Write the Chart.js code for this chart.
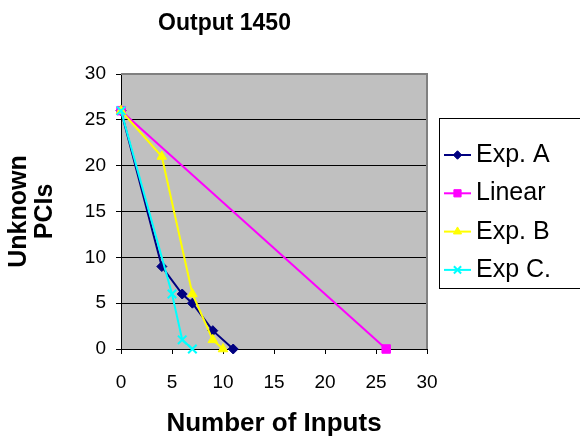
<!DOCTYPE html>
<html><head><meta charset="utf-8">
<script src="https://cdn.jsdelivr.net/npm/chart.js@4.4.0/dist/chart.umd.min.js"></script>
<style>html,body{margin:0;padding:0;background:#fff;overflow:hidden}</style>
</head><body>
<canvas id="c" width="580" height="439" style="display:block;width:580px;height:439px"></canvas>
<script>
const chartTitle = 'Output 1450';
const xAxisTitle = 'Number of Inputs';
const yAxisTitle = ['Unknown', 'PCIs'];
const seriesNames = ['Exp. A', 'Linear', 'Exp. B', 'Exp C.'];
const expAX = [0, 4, 6, 7, 9, 11];
const expAY = [26, 9, 6, 5, 2, 0];
const linearX = [0, 26];
const linearY = [26, 0];
const expBX = [0, 4, 7, 9, 10];
const expBY = [26, 21, 6, 1, 0];
const expCX = [0, 5, 6, 7];
const expCY = [26, 6, 1, 0];
const xTickValues = [0, 5, 10, 15, 20, 25, 30];
const yTickValues = [0, 5, 10, 15, 20, 25, 30];

const FONT = "'Liberation Sans', Arial, sans-serif";
const pts = (xs, ys) => xs.map((x, i) => ({x: x, y: ys[i]}));

const styles = [
  {color: '#000080', pointStyle: 'rectRot', radius: 5, order: 4},
  {color: '#FF00FF', pointStyle: 'rect', radius: 6, order: 3},
  {color: '#FFFF00', pointStyle: 'triangle', radius: 5.5, order: 2},
  {color: '#00FFFF', pointStyle: 'crossRot', radius: 6, order: 1}
];
const seriesData = [pts(expAX, expAY), pts(linearX, linearY), pts(expBX, expBY), pts(expCX, expCY)];

const datasets = seriesNames.map((name, i) => ({
  label: name,
  data: seriesData[i],
  showLine: true,
  clip: false,
  borderColor: styles[i].color,
  backgroundColor: styles[i].color,
  borderWidth: 2,
  pointStyle: styles[i].pointStyle,
  pointRadius: styles[i].radius,
  pointHoverRadius: styles[i].radius,
  pointBorderWidth: styles[i].pointStyle === 'crossRot' ? 2 : 1,
  order: styles[i].order,
  tension: 0
}));

const framePlugin = {
  id: 'frame',
  beforeDraw(chart) {
    const {ctx, chartArea: a} = chart;
    ctx.save();
    ctx.fillStyle = '#fff';
    ctx.fillRect(0, 0, chart.width, chart.height);
    ctx.fillStyle = '#C0C0C0';
    ctx.fillRect(a.left, a.top, a.right - a.left, a.bottom - a.top);
    ctx.restore();
  },
  beforeDatasetsDraw(chart) {
    const {ctx, chartArea: a} = chart;
    ctx.save();
    ctx.strokeStyle = '#808080';
    ctx.lineWidth = 2;
    ctx.beginPath();
    ctx.moveTo(a.left, a.top);
    ctx.lineTo(a.right, a.top);
    ctx.lineTo(a.right, a.bottom);
    ctx.stroke();
    ctx.restore();
  },
  afterDraw(chart) {
    const ctx = chart.ctx;
    ctx.save();
    // title
    ctx.fillStyle = '#000';
    ctx.font = "bold 23px " + FONT;
    ctx.textAlign = 'center';
    ctx.textBaseline = 'alphabetic';
    ctx.fillText(chartTitle, 224.5, 29.5);
    // legend box
    ctx.strokeStyle = '#000';
    ctx.lineWidth = 1;
    ctx.strokeRect(439.5, 118.5, 160, 170);
    ctx.font = "25px " + FONT;
    ctx.textAlign = 'left';
    chart.data.datasets.forEach((ds, i) => {
      const cy = 155 + i * 38.3;
      ctx.strokeStyle = ds.borderColor;
      ctx.lineWidth = 2;
      ctx.beginPath();
      ctx.moveTo(444, cy);
      ctx.lineTo(471, cy);
      ctx.stroke();
      ctx.fillStyle = ds.backgroundColor;
      ctx.strokeStyle = ds.borderColor;
      ctx.lineWidth = ds.pointBorderWidth;
      if (Chart.helpers && Chart.helpers.drawPoint) {
        Chart.helpers.drawPoint(ctx, {pointStyle: ds.pointStyle, radius: ds.pointRadius * 0.85, rotation: 0, borderWidth: ds.pointBorderWidth}, 457.5, cy);
      }
      ctx.fillStyle = '#000';
      ctx.fillText(ds.label, 476, cy - 2 + 9);
    });
    ctx.restore();
  }
};

new Chart(document.getElementById('c'), {
  type: 'scatter',
  data: {datasets: datasets},
  options: {
    responsive: false,
    animation: false,
    devicePixelRatio: 1,
    layout: {padding: {top: 74, right: 153, left: 0, bottom: 0}},
    plugins: {legend: {display: false}, title: {display: false}, tooltip: {enabled: false}},
    scales: {
      x: {
        type: 'linear', min: 0, max: 30,
        afterBuildTicks(s) { s.ticks = xTickValues.map(v => ({value: v})); },
        afterFit(s) { s.height = 90; },
        grid: {drawOnChartArea: false, drawTicks: true, tickLength: 5, color: '#000', tickColor: '#000'},
        border: {color: '#000', width: 1},
        ticks: {color: '#000', font: {family: FONT, size: 19}, padding: 17, maxRotation: 0, autoSkip: false},
        title: {display: true, text: xAxisTitle, color: '#000', font: {family: FONT, size: 26, weight: 'bold', lineHeight: 1.2}, padding: {top: 0, bottom: 0}}
      },
      y: {
        type: 'linear', min: 0, max: 30,
        afterBuildTicks(s) { s.ticks = yTickValues.map(v => ({value: v})); },
        afterFit(s) { s.width = 121; },
        grid: {drawTicks: true, tickLength: 5, color: c => (c.tick && c.tick.value === 30) ? 'rgba(0,0,0,0)' : '#000', tickColor: '#000'},
        border: {color: '#000', width: 1},
        ticks: {color: '#000', font: {family: FONT, size: 19}, padding: 10, autoSkip: false},
        title: {display: true, text: yAxisTitle, color: '#000', font: {family: FONT, size: 25, weight: 'bold', lineHeight: '26px'}, padding: {top: 6, bottom: 0}}
      }
    }
  },
  plugins: [framePlugin]
});
</script>
</body></html>
